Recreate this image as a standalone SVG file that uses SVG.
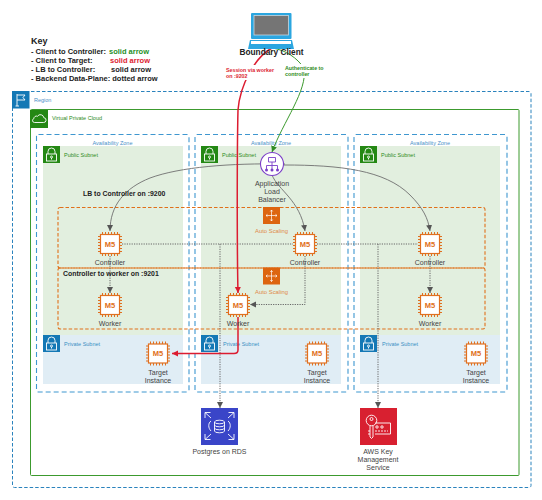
<svg xmlns="http://www.w3.org/2000/svg" width="542" height="500" viewBox="0 0 542 500">
<style>
text{font-family:"Liberation Sans",Arial,sans-serif;dominant-baseline:central}
.key{font-size:7.5px;font-weight:bold;fill:#222}
.lab{font-size:7px;fill:#444;text-anchor:middle}
.az{font-size:5.5px;fill:#4a90c8;text-anchor:middle}
.pub{font-size:5.5px;fill:#2e8b22}
.pri{font-size:5.5px;fill:#3a8fc4}
.note{font-size:6.9px;font-weight:bold;fill:#222}
.m5{font-size:7.5px;font-weight:bold;fill:#e07020;text-anchor:middle}
.azbox{fill:#fff;stroke:#3f97d0;stroke-width:1.1;stroke-dasharray:5 3}
.pubbg{fill:#e2efdf}
.pribg{fill:#e0edf5}
.asg{fill:none;stroke:#e0701a;stroke-width:1.1;stroke-dasharray:3.5 2}
.g{fill:none;stroke:#6f6f6f;stroke-width:.9}
.d{fill:none;stroke:#666;stroke-width:1;stroke-dasharray:1.2 1.2}
.r{fill:none;stroke:#dc1c30;stroke-width:1.5}
.gr{fill:none;stroke:#3c9a2e;stroke-width:1}
.ic{fill:none;stroke:#fff;stroke-width:.9}
</style>
<defs>
<marker id="ag" markerWidth="8" markerHeight="8" refX="6" refY="3" orient="auto" markerUnits="userSpaceOnUse"><path d="M0 0L6 3L0 6z" fill="#555"/></marker>
<marker id="ar" markerWidth="8" markerHeight="8" refX="6" refY="3" orient="auto" markerUnits="userSpaceOnUse"><path d="M0 0L6 3L0 6z" fill="#dc1c30"/></marker>
<marker id="agr" markerWidth="8" markerHeight="8" refX="6" refY="3" orient="auto" markerUnits="userSpaceOnUse"><path d="M0 0L6 3L0 6z" fill="#2e8b22"/></marker>
<g id="chip">
<path d="M-7.5-12V-9M-4.5-12V-9M-1.5-12V-9M1.5-12V-9M4.5-12V-9M7.5-12V-9M-7.5 9V12M-4.5 9V12M-1.5 9V12M1.5 9V12M4.5 9V12M7.5 9V12M-12-7.5H-9M-12-4.5H-9M-12-1.5H-9M-12 1.5H-9M-12 4.5H-9M-12 7.5H-9M9-7.5H12M9-4.5H12M9-1.5H12M9 1.5H12M9 4.5H12M9 7.5H12" stroke="#e07020" stroke-width="1"/>
<rect x="-9.5" y="-9.5" width="19" height="19" fill="#fff" stroke="#e07020" stroke-width="1.2"/>
</g>
<g id="lock">
<path d="M5 8V5.5a3.5 3.5 0 0 1 7 0V8" class="ic"/>
<rect x="3.5" y="8" width="10" height="7" class="ic"/>
<circle cx="8.5" cy="11" r="1" class="ic"/>
<path d="M8.5 12V13.5" class="ic"/>
</g>
<g id="asc">
<rect width="17" height="17" fill="#dd6510"/>
<path d="M8.5 3V14M3 8.5H14M8.5 3l-1.2 1.5M8.5 3l1.2 1.5M8.5 14l-1.2-1.5M8.5 14l1.2-1.5M3 8.5l1.5-1.2M3 8.5l1.5 1.2M14 8.5l-1.5-1.2M14 8.5l-1.5 1.2" stroke="#fff" stroke-width=".7" fill="none"/>
</g>
</defs>
<rect width="542" height="500" fill="#fff"/>

<g id="key">
<text x="31" y="41" style="font-size:9px;font-weight:bold;fill:#222">Key</text>
<text x="31" y="51" class="key">- Client to Controller:</text><text x="109" y="51" class="key" style="fill:#1f8f1f">solid arrow</text>
<text x="31" y="60" class="key">- Client to Target:</text><text x="110" y="60" class="key" style="fill:#dc1c30">solid arrow</text>
<text x="31" y="69" class="key">- LB to Controller:</text><text x="111" y="69" class="key">solid arrow</text>
<text x="31" y="78" class="key">- Backend Data-Plane: dotted arrow</text>
</g>

<g id="region">
<rect x="12.5" y="91.500" width="518.5" height="396" rx="2" fill="#fff" stroke="#2b83bd" stroke-width="1" stroke-dasharray="3.5 2"/>
<rect x="12" y="91" width="17.5" height="17.5" fill="#1478b5"/>
<path d="M17 94V106M15.5 106H19M17 95H25L23 97.5L25 100H17" class="ic"/>
<text x="34" y="100" class="az" style="text-anchor:start">Region</text>
</g>

<g id="vpc">
<rect x="30.5" y="109.5" width="488.5" height="366" rx="1" fill="#fff" stroke="#3c9a2e" stroke-width="1"/>
<rect x="30" y="110" width="18" height="18" fill="#248814"/>
<path d="M34.5 122.5h9a2.4 2.4 0 0 0 .3-4.8 3.4 3.4 0 0 0-6.3-1.4 2.5 2.5 0 0 0-3.6 2.3 2 2 0 0 0 .6 3.9z" class="ic"/>
<text x="52" y="118" class="pub">Virtual Private Cloud</text>
</g>

<g id="az1">
<rect x="36.5" y="134.5" width="152.5" height="257.5" rx="2" class="azbox"/>
<text x="112.5" y="143" class="az">Availability Zone</text>
<rect x="43" y="146" width="140" height="189" class="pubbg"/>
<rect x="43" y="335" width="140" height="49" class="pribg"/>
</g>
<g id="az2">
<rect x="195" y="134.5" width="153" height="257.5" rx="2" class="azbox"/>
<text x="271" y="143" class="az">Availability Zone</text>
<rect x="201" y="146" width="140" height="189" class="pubbg"/>
<rect x="201" y="335" width="140" height="49" class="pribg"/>
</g>
<g id="az3">
<rect x="354" y="134.5" width="153" height="257.5" rx="2" class="azbox"/>
<text x="430" y="143" class="az">Availability Zone</text>
<rect x="360" y="146" width="140" height="189" class="pubbg"/>
<rect x="360" y="335" width="140" height="49" class="pribg"/>
</g>

<g id="subnets">
<rect x="43" y="146" width="17" height="17" fill="#248814"/><use href="#lock" x="43" y="146"/><text x="64" y="155" class="pub">Public Subnet</text>
<rect x="201" y="146" width="17" height="17" fill="#248814"/><use href="#lock" x="201" y="146"/><text x="222" y="155" class="pub">Public Subnet</text>
<rect x="360" y="146" width="17" height="17" fill="#248814"/><use href="#lock" x="360" y="146"/><text x="381" y="155" class="pub">Public Subnet</text>
<rect x="43" y="335" width="17" height="17" fill="#1478b5"/><use href="#lock" x="43" y="335"/><text x="64" y="344" class="pri">Private Subnet</text>
<rect x="201" y="335" width="17" height="17" fill="#1478b5"/><use href="#lock" x="201" y="335"/><text x="223" y="344" class="pri">Private Subnet</text>
<rect x="360" y="335" width="17" height="17" fill="#1478b5"/><use href="#lock" x="360" y="335"/><text x="382" y="344" class="pri">Private Subnet</text>
</g>

<g id="asg-top">
<rect x="58" y="207.5" width="427" height="60.5" rx="2" class="asg"/>
<use href="#asc" x="263" y="207"/>
<text x="271.500" y="231" class="lab" style="font-size:5.9px;fill:#e08a4a">Auto Scaling</text>
</g>
<g id="asg-bottom">
<rect x="58" y="268" width="427" height="61" rx="2" class="asg"/>
<use href="#asc" x="263" y="267.500"/>
<text x="271.500" y="292" class="lab" style="font-size:5.9px;fill:#e08a4a">Auto Scaling</text>
</g>

<g id="connectors">
<path d="M285 164C230 163 180 167 150 178C125 188 110 205 110 231" class="g" marker-end="url(#ag)"/>
<path d="M284 165C340 165 385 170 410 195C423 208 428 218 430 231" class="g" marker-end="url(#ag)"/>
<path d="M272 175C278 190 300 200 305 231" class="g" marker-end="url(#ag)"/>
<path d="M122 244H293M317 244H418" class="d"/>
<path d="M220 244V408" class="d" marker-end="url(#ag)"/>
<path d="M378 244V408" class="d" marker-end="url(#ag)"/>
<path d="M110 256V293" class="d" marker-end="url(#ag)"/>
<path d="M430 256V293" class="d" marker-end="url(#ag)"/>
<path d="M305 256V304.500H250" class="d" marker-end="url(#ag)"/>
<path d="M272 48C286 50 297 58 304 68C308 90 283 122 272 152" class="gr" marker-end="url(#agr)"/>
<path d="M272 48C255 57 240 85 238 110C237 150 237 250 238 293" class="r" marker-end="url(#ar)"/>
<path d="M238 317V350Q238 353.500 234 353.500H172" class="r" marker-end="url(#ar)"/>
</g>

<g id="client">
<rect x="251" y="13" width="40.500" height="26" rx="1" fill="#2ba6e0"/>
<rect x="254" y="15.500" width="34.500" height="19.500" fill="#757575" stroke="#c8d8e2" stroke-width=".8"/>
<path d="M250 40H292L294 49H248z" fill="#2ba6e0"/>
<rect x="251" y="41" width="40" height="3" fill="#fff"/>
<text x="271.500" y="52" style="font-size:8.300px;font-weight:bold;fill:#222;text-anchor:middle">Boundary Client</text>
</g>
<g id="label-session">
<rect x="225" y="65" width="52" height="15" fill="#fff"/>
<text x="226" y="69.500" style="font-size:5.300px;font-weight:bold;fill:#dc1c30">Session via worker</text>
<text x="226" y="76" style="font-size:5.300px;font-weight:bold;fill:#dc1c30">on :9202</text>
</g>
<g id="label-auth">
<rect x="285" y="64" width="42" height="14" fill="#fff"/>
<text x="285" y="67.500" style="font-size:5.300px;font-weight:bold;fill:#2e8b22">Authenticate to</text>
<text x="285" y="74" style="font-size:5.300px;font-weight:bold;fill:#2e8b22">controller</text>
</g>

<g id="lb">
<circle cx="272" cy="164" r="11.500" fill="#fff" stroke="#7b3fc8" stroke-width="1.100"/>
<path d="M268.500 157.500h7v4.500h-7zM272 162v3.500M266.500 169V165.500H277.500V169M272 165.500V169" fill="none" stroke="#7b3fc8" stroke-width=".9"/>
<circle cx="266.500" cy="170" r="1.500" fill="#7b3fc8"/><circle cx="272" cy="170" r="1.500" fill="#7b3fc8"/><circle cx="277.500" cy="170" r="1.500" fill="#7b3fc8"/>
<text x="272" y="183" class="lab">Application</text><text x="272" y="191" class="lab">Load</text><text x="272" y="199" class="lab">Balancer</text>
</g>

<text id="lb-note" x="83" y="193" class="note">LB to Controller on :9200</text>
<text id="worker-note" x="63" y="273" class="note">Controller to worker on :9201</text>

<g id="controller1"><use href="#chip" x="110" y="244"/><text x="110" y="244" class="m5">M5</text><text x="110" y="262" class="lab">Controller</text></g>
<g id="controller2"><use href="#chip" x="305" y="244"/><text x="305" y="244" class="m5">M5</text><text x="305" y="262" class="lab">Controller</text></g>
<g id="controller3"><use href="#chip" x="430" y="244"/><text x="430" y="244" class="m5">M5</text><text x="430" y="262" class="lab">Controller</text></g>
<g id="worker1"><use href="#chip" x="110" y="305"/><text x="110" y="305" class="m5">M5</text><text x="110" y="323" class="lab">Worker</text></g>
<g id="worker2"><use href="#chip" x="238" y="305"/><text x="238" y="305" class="m5">M5</text><text x="238" y="323" class="lab">Worker</text></g>
<g id="worker3"><use href="#chip" x="430" y="305"/><text x="430" y="305" class="m5">M5</text><text x="430" y="323" class="lab">Worker</text></g>
<g id="target1"><use href="#chip" x="158" y="353.500"/><text x="158" y="353.500" class="m5">M5</text><text x="158" y="372" class="lab">Target</text><text x="158" y="380" class="lab">Instance</text></g>
<g id="target2"><use href="#chip" x="317" y="353.500"/><text x="317" y="353.500" class="m5">M5</text><text x="317" y="372" class="lab">Target</text><text x="317" y="380" class="lab">Instance</text></g>
<g id="target3"><use href="#chip" x="476" y="353.500"/><text x="476" y="353.500" class="m5">M5</text><text x="476" y="372" class="lab">Target</text><text x="476" y="380" class="lab">Instance</text></g>

<g id="rds">
<rect x="201" y="408" width="37" height="37" fill="#3a45c8"/>
<ellipse cx="219.500" cy="422" rx="5" ry="1.800" class="ic"/>
<path d="M214.500 422V431a5 1.800 0 0 0 10 0V422M214.500 425a5 1.800 0 0 0 10 0M214.500 428a5 1.800 0 0 0 10 0M211 421c-3 2-3 7 0 10M228 421c3 2 3 7 0 10M205 418V412.500H210.500M205 412.500L211 418M234 418V412.500H228.500M234 412.500L228 418M205 434V439.500H210.500M205 439.500L211 434M234 434V439.500H228.500M234 439.500L228 434" class="ic"/>
<text x="219.500" y="451" class="lab">Postgres on RDS</text>
</g>

<g id="kms">
<rect x="360" y="408" width="37" height="37" fill="#d82030"/>
<circle cx="371.500" cy="420.500" r="5.300" class="ic"/><circle cx="371.500" cy="419" r="1.500" class="ic"/>
<path d="M370 426V437L371.500 438.500L373 437V426M370 431H368M370 434H368" class="ic"/>
<path d="M375 423H390.500V434H375" class="ic"/>
<circle cx="377" cy="427" r="1.200" class="ic"/><circle cx="382" cy="427" r="1.200" class="ic"/>
<path d="M375 431H388" class="ic" stroke-dasharray="2 1"/>
<text x="378" y="451" class="lab">AWS Key</text><text x="378" y="459" class="lab">Management</text><text x="378" y="467" class="lab">Service</text>
</g>
</svg>
